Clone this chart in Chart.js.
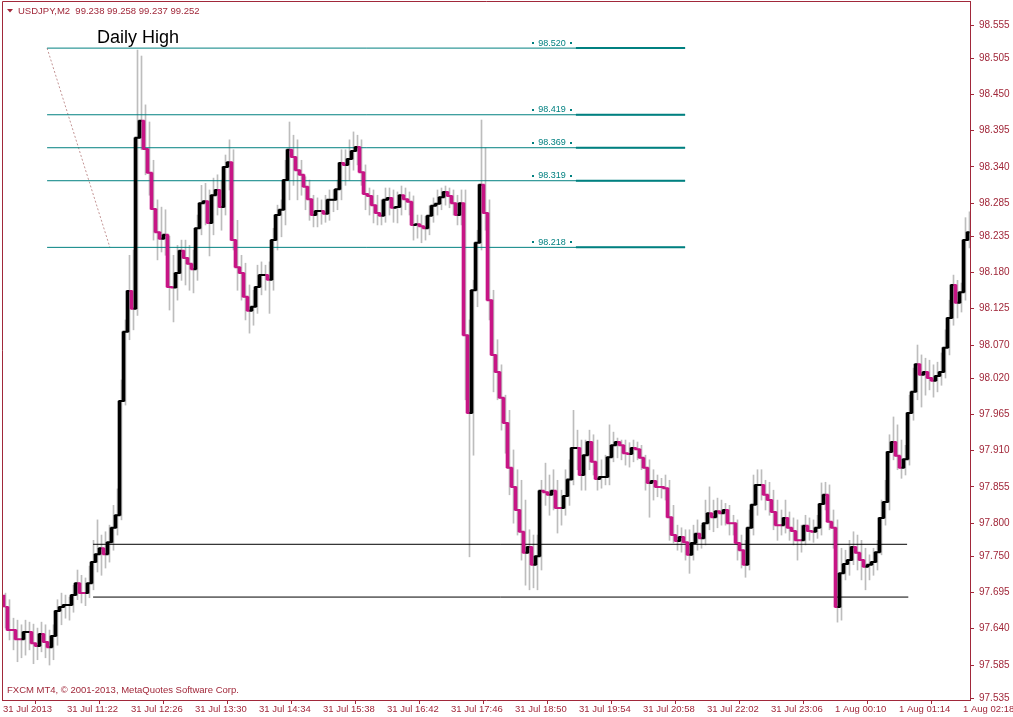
<!DOCTYPE html>
<html><head><meta charset="utf-8">
<script src="https://cdn.jsdelivr.net/npm/chart.js@4.4.1/dist/chart.umd.min.js"></script>
<style>html,body{margin:0;padding:0;background:#fff;overflow:hidden}canvas{display:block}</style>
</head><body>
<canvas id="c" width="1013" height="717"></canvas>
<script>
// ---------- DATA ----------
const symbolTitle = 'USDJPY,M2  99.238 99.258 99.237 99.252';
const copyrightText = 'FXCM MT4, \u00A9 2001-2013, MetaQuotes Software Corp.';
const annotationText = 'Daily High';

const firstOpen = 97.691;
const closes = [
 97.673,97.638,97.638,97.624,97.624,97.635,97.635,97.618,97.614,97.632,
 97.620,97.612,97.629,97.667,97.673,97.676,97.676,97.691,97.709,97.694,
 97.694,97.709,97.741,97.753,97.762,97.753,97.771,97.793,97.812,97.985,
 98.090,98.152,98.125,98.384,98.410,98.367,98.331,98.276,98.241,98.231,
 98.237,98.158,98.157,98.179,98.213,98.202,98.193,98.185,98.247,98.285,
 98.288,98.255,98.297,98.305,98.279,98.340,98.347,98.229,98.188,98.179,
 98.143,98.122,98.128,98.158,98.176,98.176,98.169,98.229,98.267,98.275,
 98.320,98.366,98.355,98.335,98.328,98.310,98.291,98.267,98.273,98.273,
 98.269,98.290,98.290,98.306,98.346,98.343,98.352,98.364,98.370,98.332,
 98.299,98.296,98.282,98.270,98.266,98.290,98.293,98.278,98.279,98.297,
 98.291,98.287,98.252,98.253,98.250,98.247,98.266,98.281,98.284,98.294,
 98.302,98.296,98.285,98.267,98.285,98.085,97.967,98.153,98.225,98.313,
 98.270,98.138,98.055,98.029,97.990,97.952,97.884,97.855,97.820,97.787,
 97.755,97.764,97.737,97.750,97.849,97.847,97.843,97.849,97.823,97.823,
 97.841,97.866,97.914,97.914,97.873,97.903,97.923,97.893,97.867,97.870,
 97.870,97.900,97.918,97.923,97.918,97.906,97.905,97.914,97.912,97.899,
 97.884,97.861,97.864,97.855,97.855,97.853,97.809,97.782,97.773,97.779,
 97.771,97.752,97.770,97.784,97.777,97.800,97.815,97.809,97.818,97.815,
 97.820,97.800,97.800,97.770,97.759,97.737,97.793,97.828,97.858,97.858,
 97.843,97.835,97.817,97.797,97.797,97.808,97.793,97.788,97.774,97.774,
 97.796,97.788,97.787,97.793,97.829,97.843,97.802,97.793,97.673,97.724,
 97.738,97.744,97.764,97.755,97.744,97.734,97.737,97.741,97.756,97.808,
 97.832,97.908,97.923,97.902,97.884,97.897,97.967,97.999,98.041,98.025,
 98.029,98.020,98.016,98.023,98.029,98.066,98.111,98.161,98.134,98.150,
 98.229,98.241];
const highs = [
 97.694,97.684,97.656,97.653,97.646,97.653,97.650,97.647,97.641,97.650,
 97.646,97.638,97.646,97.684,97.694,97.691,97.688,97.706,97.729,97.721,
 97.717,97.735,97.774,97.805,97.782,97.787,97.797,97.827,97.852,98.017,
 98.108,98.206,98.214,98.517,98.508,98.434,98.408,98.350,98.290,98.279,
 98.275,98.235,98.206,98.221,98.229,98.229,98.221,98.214,98.267,98.312,
 98.315,98.305,98.323,98.328,98.320,98.358,98.381,98.366,98.259,98.206,
 98.194,98.161,98.153,98.191,98.196,98.191,98.196,98.247,98.282,98.290,
 98.350,98.408,98.388,98.381,98.350,98.325,98.320,98.297,98.293,98.290,
 98.297,98.305,98.305,98.320,98.366,98.366,98.381,98.393,98.388,98.381,
 98.343,98.308,98.305,98.297,98.290,98.308,98.308,98.305,98.302,98.311,
 98.308,98.302,98.296,98.267,98.267,98.265,98.281,98.293,98.305,98.308,
 98.311,98.308,98.305,98.297,98.305,98.305,98.108,98.168,98.244,98.411,
 98.369,98.290,98.153,98.078,98.040,97.994,97.971,97.911,97.881,97.865,
 97.835,97.790,97.782,97.782,97.865,97.891,97.873,97.881,97.865,97.850,
 97.881,97.896,97.971,97.941,97.926,97.926,97.941,97.934,97.926,97.896,
 97.903,97.949,97.938,97.929,97.926,97.926,97.922,97.926,97.923,97.918,
 97.903,97.896,97.881,97.873,97.868,97.873,97.865,97.827,97.797,97.793,
 97.790,97.790,97.797,97.805,97.797,97.835,97.855,97.835,97.838,97.835,
 97.830,97.827,97.812,97.805,97.782,97.774,97.820,97.873,97.881,97.881,
 97.865,97.862,97.850,97.835,97.820,97.835,97.817,97.808,97.805,97.797,
 97.812,97.808,97.805,97.812,97.861,97.862,97.858,97.820,97.805,97.762,
 97.759,97.774,97.787,97.782,97.774,97.762,97.752,97.762,97.774,97.835,
 97.865,97.934,97.961,97.949,97.926,97.918,97.994,98.035,98.070,98.055,
 98.050,98.047,98.040,98.044,98.058,98.093,98.138,98.176,98.168,98.164,
 98.263,98.272];
const lows = [
 97.641,97.623,97.608,97.590,97.596,97.600,97.608,97.587,97.593,97.605,
 97.596,97.585,97.593,97.615,97.646,97.656,97.653,97.665,97.684,97.679,
 97.675,97.687,97.699,97.726,97.721,97.732,97.741,97.759,97.782,97.805,
 97.979,98.078,98.093,98.115,98.366,98.328,98.297,98.229,98.199,98.211,
 98.206,98.123,98.105,98.138,98.168,98.161,98.153,98.149,98.168,98.237,
 98.252,98.205,98.237,98.267,98.244,98.267,98.305,98.214,98.153,98.138,
 98.108,98.088,98.100,98.118,98.146,98.153,98.118,98.153,98.214,98.234,
 98.252,98.290,98.312,98.290,98.297,98.275,98.259,98.249,98.249,98.253,
 98.256,98.259,98.272,98.275,98.290,98.312,98.320,98.335,98.343,98.312,
 98.275,98.267,98.255,98.252,98.252,98.256,98.267,98.256,98.255,98.267,
 98.275,98.267,98.229,98.232,98.225,98.229,98.237,98.256,98.267,98.275,
 98.282,98.278,98.267,98.252,98.252,97.987,97.749,97.903,98.128,98.214,
 98.244,98.108,97.999,97.987,97.941,97.906,97.843,97.800,97.782,97.744,
 97.706,97.699,97.702,97.699,97.729,97.827,97.812,97.820,97.785,97.797,
 97.812,97.827,97.858,97.881,97.850,97.850,97.881,97.873,97.850,97.853,
 97.858,97.858,97.893,97.899,97.896,97.888,97.885,97.893,97.896,97.881,
 97.850,97.809,97.835,97.840,97.838,97.835,97.774,97.770,97.759,97.756,
 97.744,97.724,97.744,97.759,97.762,97.767,97.790,97.787,97.793,97.797,
 97.797,97.782,97.782,97.744,97.732,97.718,97.729,97.782,97.812,97.835,
 97.820,97.812,97.790,97.774,97.782,97.785,97.774,97.767,97.744,97.756,
 97.767,97.774,97.771,97.777,97.782,97.820,97.790,97.762,97.650,97.653,
 97.714,97.721,97.737,97.729,97.714,97.699,97.714,97.721,97.729,97.752,
 97.797,97.820,97.896,97.881,97.868,97.873,97.888,97.956,97.987,97.976,
 97.994,98.002,97.991,97.999,98.009,98.020,98.055,98.100,98.111,98.120,
 98.138,98.217];

const xTickPos = [-0.625,15.375,31.375,47.375,63.375,79.375,95.375,111.375,127.375,143.375,159.375,175.375,191.375,207.375,223.375,239.375];
const xTickLabels = ['31 Jul 2013','31 Jul 11:22','31 Jul 12:26','31 Jul 13:30','31 Jul 14:34','31 Jul 15:38','31 Jul 16:42','31 Jul 17:46','31 Jul 18:50','31 Jul 19:54','31 Jul 20:58','31 Jul 22:02','31 Jul 23:06','1 Aug 00:10','1 Aug 01:14','1 Aug 02:18'];
const yTickVals = [98.555,98.505,98.450,98.395,98.340,98.285,98.235,98.180,98.125,98.070,98.020,97.965,97.910,97.855,97.800,97.750,97.695,97.640,97.585,97.535];

const dailyLevels = [98.520, 98.419, 98.369, 98.319, 98.218];
const dailyFromBar = 10.4, dailyToBar = 169.9, dailyBoldFromBar = 142.6, dailyLabelBar = 136.6;
const dailyDotBars = [131.9, 141.4];
const supportLevels = [97.768, 97.688];
const supportFromBar = 21.9, supportToBar = [225.4, 225.7];
const diagonalFrom = {bar: 10.4, price: 98.520}, diagonalTo = {bar: 26.1, price: 98.218};

// ---------- STYLE ----------
const FONT = '"Liberation Sans", Arial, sans-serif';
const AXIS = '#A1283A';
const UP = '#000000', DOWN = '#C71585', WICK = '#BDBDBD', TEAL = '#008080';
const X_MIN = -0.875, X_MAX = 241.125, Y_MIN = 97.532, Y_MAX = 98.5914;

// direction colours
const dirColor = [];
let lastCol = UP;
closes.forEach((c, i) => {
  const prev = i ? closes[i - 1] : firstOpen;
  if (c > prev) lastCol = UP; else if (c < prev) lastCol = DOWN;
  dirColor.push(lastCol);
});

const datasets = [];
// bodies (open = previous close)
datasets.push({type: 'bar', grouped: false, order: 0, barThickness: 3, borderWidth: 0,
  backgroundColor: dirColor,
  data: closes.map((c, i) => ({x: i - 0.5, y: [i ? closes[i - 1] : firstOpen, c]}))});
// stepped close line
datasets.push({type: 'line', order: 1, stepped: 'middle', borderWidth: 2, pointRadius: 0,
  borderColor: UP,
  segment: {borderColor: ctx => dirColor[ctx.p1DataIndex]},
  data: closes.map((c, i) => ({x: i, y: c}))});
// wicks
datasets.push({type: 'bar', grouped: false, order: 4, barThickness: 1, borderWidth: 0,
  backgroundColor: WICK,
  data: closes.map((c, i) => ({x: i, y: [lows[i], highs[i]]}))});
// daily high levels
dailyLevels.forEach(l => {
  datasets.push({type: 'line', order: 2, borderColor: TEAL, borderWidth: 1, pointRadius: 0,
    data: [{x: dailyFromBar, y: l}, {x: dailyToBar, y: l}]});
  datasets.push({type: 'line', order: 2, borderColor: TEAL, borderWidth: 2, pointRadius: 0,
    data: [{x: dailyBoldFromBar, y: l}, {x: dailyToBar, y: l}]});
});
// support lines
supportLevels.forEach((l, k) => {
  datasets.push({type: 'line', order: 2, borderColor: '#000', borderWidth: 1, pointRadius: 0,
    data: [{x: supportFromBar, y: l}, {x: supportToBar[k], y: l}]});
});
// dotted diagonal
datasets.push({type: 'line', order: 3, borderColor: '#C39494', borderWidth: 1, borderDash: [2, 2], pointRadius: 0,
  data: [{x: diagonalFrom.bar, y: diagonalFrom.price}, {x: diagonalTo.bar, y: diagonalTo.price}]});

const overlay = {
  id: 'overlay',
  afterDraw(chart) {
    const ctx = chart.ctx, a = chart.chartArea, xs = chart.scales.x, ys = chart.scales.y;
    ctx.save();
    ctx.strokeStyle = AXIS; ctx.lineWidth = 1;
    ctx.beginPath();
    ctx.moveTo(a.left + 0.5, a.bottom); ctx.lineTo(a.left + 0.5, a.top + 0.5); ctx.lineTo(a.right, a.top + 0.5);
    ctx.stroke();
    // title
    ctx.fillStyle = AXIS;
    ctx.beginPath(); ctx.moveTo(7, 9); ctx.lineTo(13, 9); ctx.lineTo(10, 12.5); ctx.closePath(); ctx.fill();
    ctx.font = '9.5px ' + FONT; ctx.textBaseline = 'middle'; ctx.textAlign = 'left';
    ctx.fillText(symbolTitle, 18, 11);
    ctx.fillText(copyrightText, 7, 690);
    // Daily High
    ctx.fillStyle = '#000'; ctx.font = '18px ' + FONT; ctx.textBaseline = 'alphabetic';
    ctx.fillText(annotationText, 97, 43);
    // level labels
    ctx.fillStyle = TEAL; ctx.font = '9px ' + FONT; ctx.textAlign = 'center'; ctx.textBaseline = 'middle';
    dailyLevels.forEach(l => {
      const py = ys.getPixelForValue(l);
      ctx.fillText(l.toFixed(3), xs.getPixelForValue(dailyLabelBar), py - 5);
      dailyDotBars.forEach(b => {
        const px = Math.round(xs.getPixelForValue(b));
        ctx.fillRect(px - 1, Math.round(py - 6), 2, 2);
      });
    });
    ctx.restore();
  }
};

new Chart(document.getElementById('c'), {
  type: 'line',
  data: {datasets},
  plugins: [overlay],
  options: {
    responsive: false, animation: false, devicePixelRatio: 1, events: [],
    layout: {padding: {left: 2, top: 1, right: 0, bottom: 0}},
    plugins: {legend: {display: false}, tooltip: {enabled: false}, title: {display: false}},
    scales: {
      x: {type: 'linear', min: X_MIN, max: X_MAX, offset: false,
        afterBuildTicks: s => { s.ticks = xTickPos.map(v => ({value: v})); },
        afterFit: s => { s.height = 17; s.paddingLeft = 0; s.paddingRight = 0; },
        grid: {drawOnChartArea: false, drawTicks: true, tickLength: 4, color: AXIS},
        border: {display: true, color: AXIS},
        ticks: {autoSkip: false, maxRotation: 0, minRotation: 0, align: 'start', padding: 0,
          color: AXIS, font: {family: FONT, size: 9.5}, callback: (v, i) => xTickLabels[i]}},
      y: {type: 'linear', position: 'right', min: Y_MIN, max: Y_MAX,
        afterBuildTicks: s => { s.ticks = yTickVals.map(v => ({value: v})); },
        afterFit: s => { s.width = 43; s.paddingTop = 0; s.paddingBottom = 0; },
        grid: {drawOnChartArea: false, drawTicks: true, tickLength: 4, color: AXIS},
        border: {display: true, color: AXIS},
        ticks: {padding: 5, color: AXIS, font: {family: FONT, size: 10}, callback: v => v.toFixed(3)}}
    }
  }
});
</script>
</body></html>
